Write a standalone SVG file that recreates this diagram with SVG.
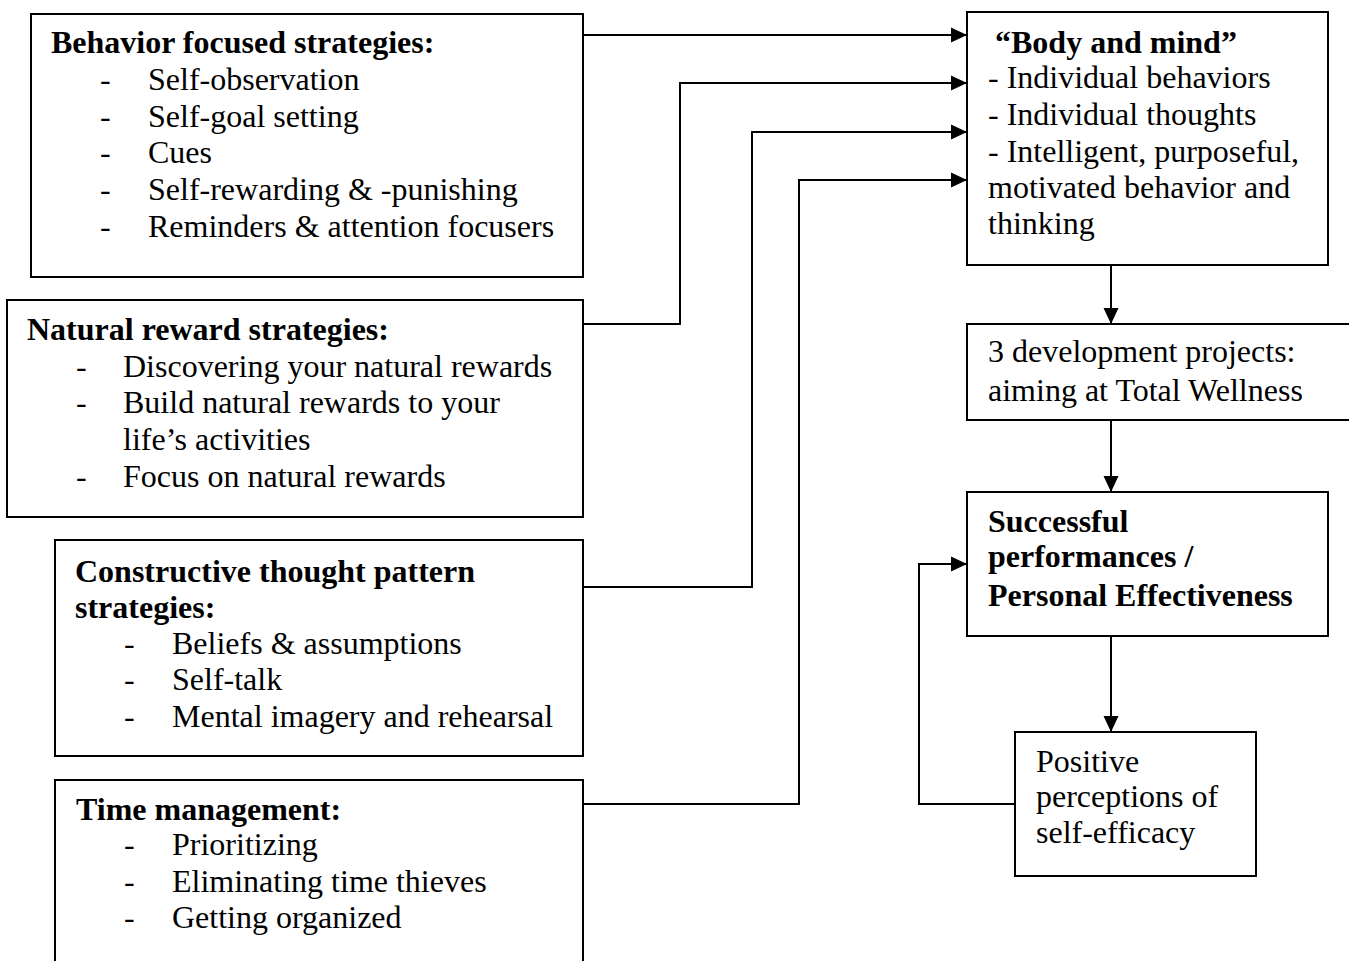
<svg xmlns="http://www.w3.org/2000/svg" width="1349" height="961" viewBox="0 0 1349 961">
  <style>
    .box { fill: #ffffff; stroke: #000000; stroke-width: 2; }
    .t { font-family: "Liberation Serif", "Times New Roman", serif; font-size: 32px; fill: #000000; }
    .b { font-weight: bold; }
    .wire { fill: none; stroke: #000000; stroke-width: 2; }
  </style>
  <defs>
    <marker id="arrow" markerWidth="16" markerHeight="16" viewBox="0 0 16 16" refX="16" refY="8" orient="auto" markerUnits="userSpaceOnUse">
      <path d="M0,0.5 L16,8 L0,15.5 Z" fill="#000000"/>
    </marker>
  </defs>
  <rect width="1349" height="961" fill="#ffffff"/>

  <g id="behavior">
    <rect class="box" x="31" y="14" width="552" height="263"/>
    <text class="t b" x="51" y="53">Behavior focused strategies:</text>
    <text class="t" x="100" y="90">-</text><text class="t" x="148" y="90">Self-observation</text>
    <text class="t" x="100" y="127">-</text><text class="t" x="148" y="127">Self-goal setting</text>
    <text class="t" x="100" y="163">-</text><text class="t" x="148" y="163">Cues</text>
    <text class="t" x="100" y="200">-</text><text class="t" x="148" y="200">Self-rewarding &amp; -punishing</text>
    <text class="t" x="100" y="237">-</text><text class="t" x="148" y="237">Reminders &amp; attention focusers</text>
  </g>

  <g id="natural">
    <rect class="box" x="7" y="300" width="576" height="217"/>
    <text class="t b" x="27" y="340">Natural reward strategies:</text>
    <text class="t" x="76" y="377">-</text><text class="t" x="123" y="377">Discovering your natural rewards</text>
    <text class="t" x="76" y="413">-</text><text class="t" x="123" y="413">Build natural rewards to your</text>
    <text class="t" x="123" y="450">life’s activities</text>
    <text class="t" x="76" y="487">-</text><text class="t" x="123" y="487">Focus on natural rewards</text>
  </g>

  <g id="constructive">
    <rect class="box" x="55" y="540" width="528" height="216"/>
    <text class="t b" x="75" y="582">Constructive thought pattern</text>
    <text class="t b" x="75" y="618">strategies:</text>
    <text class="t" x="124" y="654">-</text><text class="t" x="172" y="654">Beliefs &amp; assumptions</text>
    <text class="t" x="124" y="690">-</text><text class="t" x="172" y="690">Self-talk</text>
    <text class="t" x="124" y="727">-</text><text class="t" x="172" y="727">Mental imagery and rehearsal</text>
  </g>

  <g id="time">
    <rect class="box" x="55" y="780" width="528" height="200"/>
    <text class="t b" x="76" y="820">Time management:</text>
    <text class="t" x="124" y="855">-</text><text class="t" x="172" y="855">Prioritizing</text>
    <text class="t" x="124" y="892">-</text><text class="t" x="172" y="892">Eliminating time thieves</text>
    <text class="t" x="124" y="928">-</text><text class="t" x="172" y="928">Getting organized</text>
  </g>

  <g id="body-mind">
    <rect class="box" x="967" y="12" width="361" height="253"/>
    <text class="t b" x="995" y="53">“Body and mind”</text>
    <text class="t" x="988" y="88">- Individual behaviors</text>
    <text class="t" x="988" y="125">- Individual thoughts</text>
    <text class="t" x="988" y="162">- Intelligent, purposeful,</text>
    <text class="t" x="988" y="198">motivated behavior and</text>
    <text class="t" x="988" y="234">thinking</text>
  </g>

  <g id="projects">
    <rect class="box" x="967" y="324" width="400" height="96"/>
    <text class="t" x="988" y="362">3 development projects:</text>
    <text class="t" x="988" y="401">aiming at Total Wellness</text>
  </g>

  <g id="performance">
    <rect class="box" x="967" y="492" width="361" height="144"/>
    <text class="t b" x="988" y="532">Successful</text>
    <text class="t b" x="988" y="567">performances /</text>
    <text class="t b" x="988" y="606">Personal Effectiveness</text>
  </g>

  <g id="self-efficacy">
    <rect class="box" x="1015" y="732" width="241" height="144"/>
    <text class="t" x="1036" y="772">Positive</text>
    <text class="t" x="1036" y="807">perceptions of</text>
    <text class="t" x="1036" y="843">self-efficacy</text>
  </g>

  <g id="connectors">
    <path class="wire" d="M583,35 H967" marker-end="url(#arrow)"/>
    <path class="wire" d="M583,324 H680 V83 H967" marker-end="url(#arrow)"/>
    <path class="wire" d="M583,587 H752 V132 H967" marker-end="url(#arrow)"/>
    <path class="wire" d="M583,804 H799 V180 H967" marker-end="url(#arrow)"/>
    <path class="wire" d="M1111,265 V324" marker-end="url(#arrow)"/>
    <path class="wire" d="M1111,420 V492" marker-end="url(#arrow)"/>
    <path class="wire" d="M1111,636 V732" marker-end="url(#arrow)"/>
    <path class="wire" d="M1015,804 H919 V564 H967" marker-end="url(#arrow)"/>
  </g>
</svg>
